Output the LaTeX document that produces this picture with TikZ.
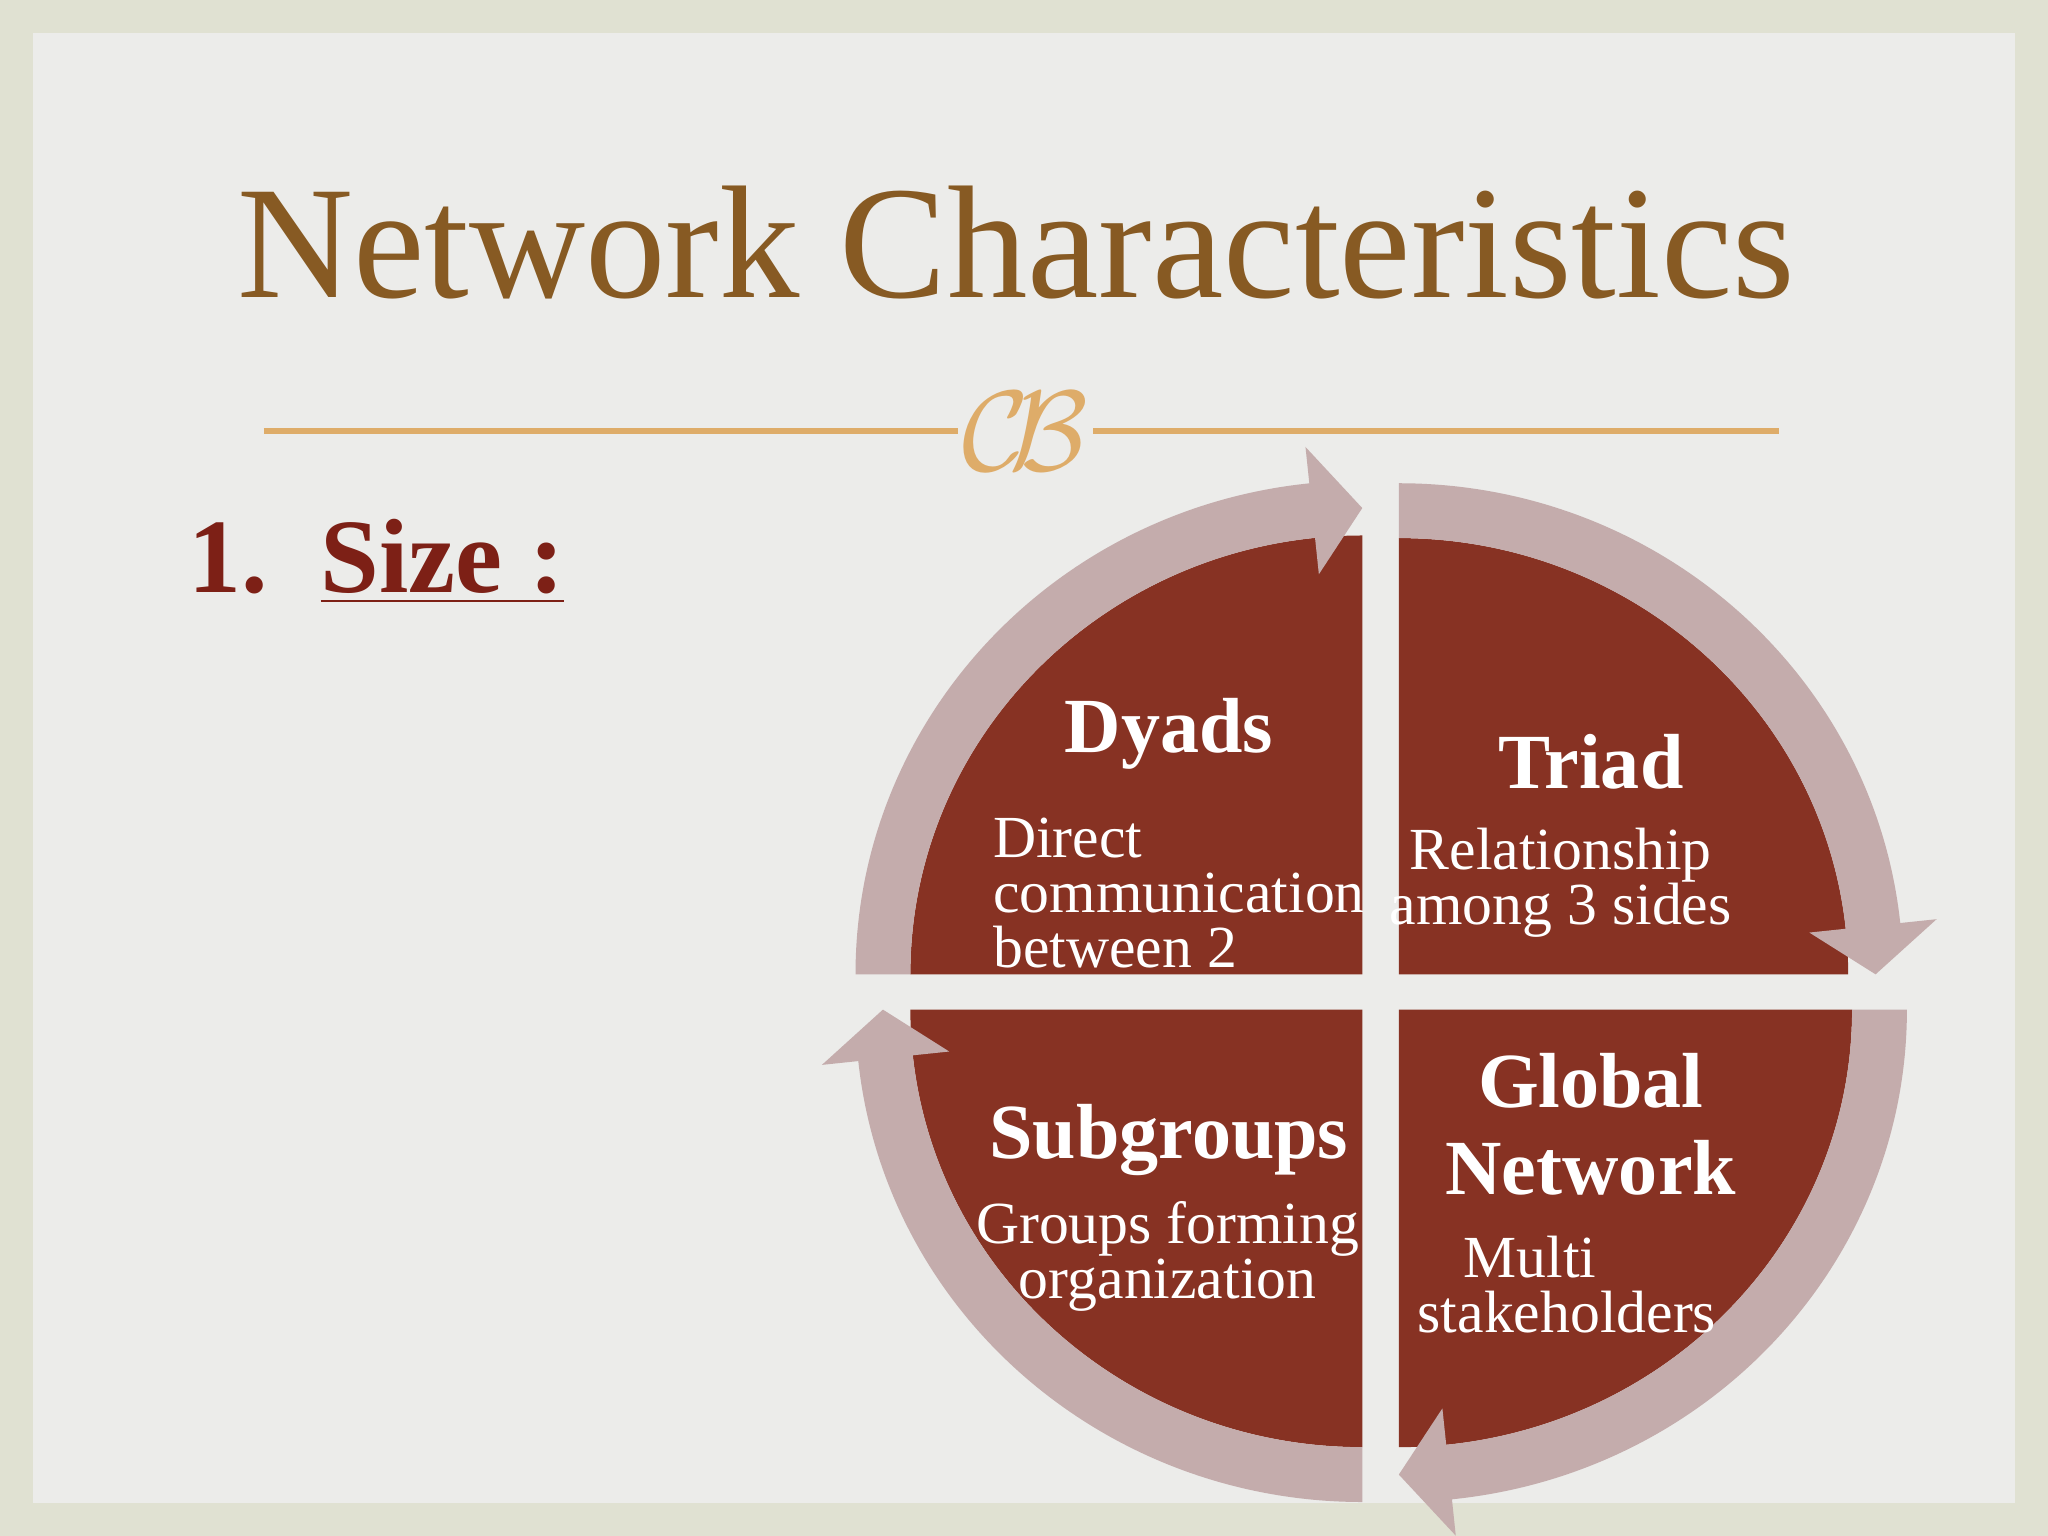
\documentclass[tikz,border=0pt]{standalone}
\usepackage{fontspec}
\setmainfont{Liberation Serif}
\usetikzlibrary{calc}
\definecolor{bgout}{RGB}{224,225,210}
\definecolor{bgin}{RGB}{236,236,234}
\definecolor{titlec}{RGB}{135,90,35}
\definecolor{linec}{RGB}{222,172,105}
\definecolor{sizec}{RGB}{125,32,22}
\definecolor{piec}{RGB}{135,50,35}
\definecolor{ringc}{RGB}{196,172,172}
\tikzset{
  pie/.style={fill=piec},
  head/.style={text=white,font=\fontsize{17}{17}\selectfont\bfseries,align=center},
  body/.style={text=white,font=\fontsize{13}{12}\selectfont},
}
\newcommand\ringarr[6]{%
 \pgfmathsetmacro\rgIa{#5-28}\pgfmathsetmacro\rgIb{#6-28}%
 \pgfmathsetmacro\rgMa{#5+21}\pgfmathsetmacro\rgMb{#6+21}%
 \pgfmathsetmacro\rgOa{#5+70}\pgfmathsetmacro\rgOb{#6+70}%
 \pgfmathsetmacro\rgRa{#5+42}\pgfmathsetmacro\rgRb{#6+42}%
 \fill[ringc] ($(#1)+({#5*cos(#2)},{#6*sin(#2)})$) arc[start angle=#2,end angle=#3,x radius=#5,y radius=#6]
  -- ($(#1)+({\rgIa*cos(#3)},{\rgIb*sin(#3)})$) -- ($(#1)+({\rgMa*cos(#4)},{\rgMb*sin(#4)})$) -- ($(#1)+({\rgOa*cos(#3)},{\rgOb*sin(#3)})$)
  -- ($(#1)+({\rgRa*cos(#3)},{\rgRb*sin(#3)})$) arc[start angle=#3,end angle=#2,x radius=\rgRa,y radius=\rgRb] -- cycle;}
\begin{document}
\begin{tikzpicture}[x=0.01cm,y=0.01cm]
\useasboundingbox (0,0) rectangle (1568,1176);
\fill[bgout] (0,0) rectangle (1568,1176);
\fill[bgin] (25,25) rectangle (1543,1151);
\node[text=titlec,font=\fontsize{35}{35}\selectfont] (title) at (778,990) {Network Characteristics};
\coordinate (l1) at (202,846); \coordinate (l2) at (1362,846);
\draw[linec,line width=1.2pt] (l1) -- (l2);
\node[fill=bgin,text=linec,inner sep=1pt,font=\fontsize{30}{30}\selectfont\itshape] (orn) at (785,846) {\(\mathcal{C}\!\mathcal{B}\)};
\node[anchor=west,text=sizec,font=\fontsize{23}{23}\selectfont\bfseries] (size) at (132,746) {1.\enspace\underline{Size :}};
\coordinate (tl) at (1043,430); \coordinate (tr) at (1071,430);
\coordinate (bl) at (1043,403); \coordinate (br) at (1071,403);
\fill[pie] (tl) -- ++(-346,0) arc[start angle=180,end angle=90,x radius=346,y radius=336] -- cycle;
\fill[pie] (tr) -- ++(0,334) arc[start angle=90,end angle=0,x radius=344,y radius=334] -- cycle;
\fill[pie] (bl) -- ++(0,-335) arc[start angle=270,end angle=180,x radius=346,y radius=335] -- cycle;
\fill[pie] (br) -- ++(347,0) arc[start angle=360,end angle=270,x radius=347,y radius=335] -- cycle;
\ringarr{tl}{180}{96}{90}{346}{336}
\ringarr{tr}{90}{6}{0}{344}{334}
\ringarr{br}{360}{276}{270}{347}{335}
\ringarr{bl}{270}{186}{180}{346}{335}
\node[head] (dy) at (895,614) {Dyads};
\node[body,anchor=north west,align=left] (dyb) at (748,562) {Direct\\communication\\between 2};
\node[head] (tri) at (1218,593) {Triad};
\node[body,align=center] (trib) at (1195,500) {Relationship\\among 3 sides};
\node[head] (sub) at (895,303) {Subgroups};
\node[body,align=center] (subb) at (894,214) {Groups forming\\organization};
\node[head,font=\fontsize{17}{19}\selectfont\bfseries] (glob) at (1218,315) {Global\\Network};
\node[body,align=left,anchor=north west] (globb) at (1073,242) {\hspace*{10pt}Multi\\stakeholders};
\end{tikzpicture}
\end{document}
